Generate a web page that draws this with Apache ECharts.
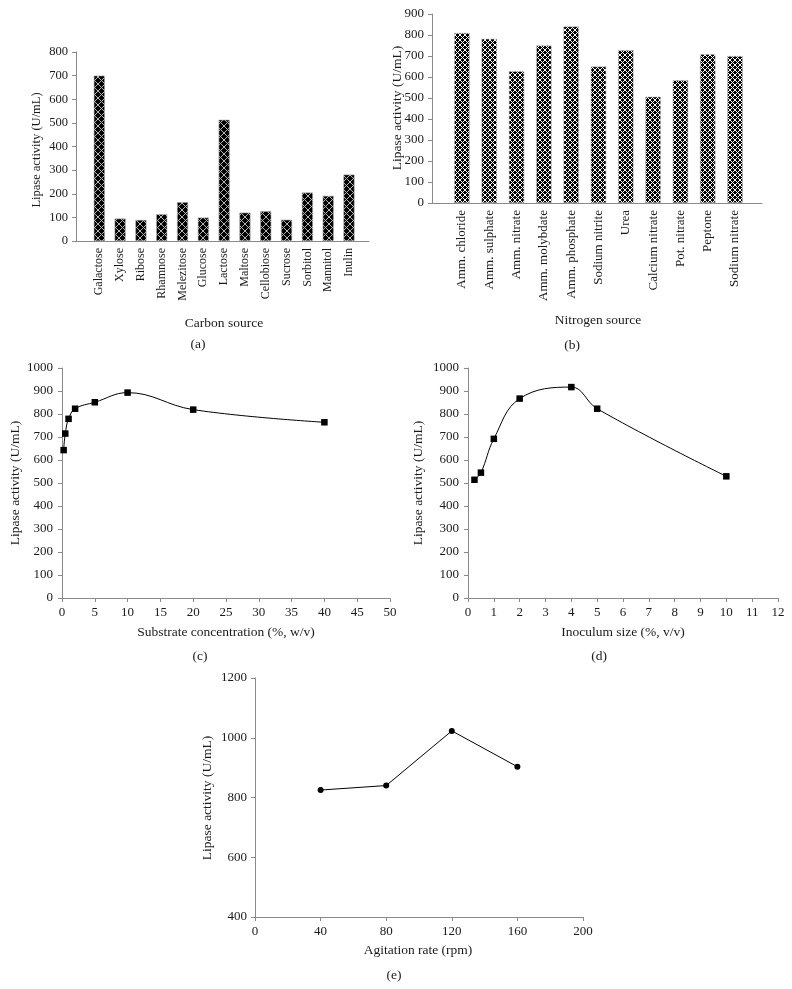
<!DOCTYPE html>
<html><head><meta charset="utf-8">
<script src="https://cdn.jsdelivr.net/npm/echarts@6/dist/echarts.min.js"></script>
<style>html,body{margin:0;padding:0;background:#fff}#c{width:792px;height:989px}</style>
</head><body><div id="c"></div>
<script>
// ---- data ----
const carbonSources = ['Galactose','Xylose','Ribose','Rhamnose','Melezitose','Glucose','Lactose','Maltose','Cellobiose','Sucrose','Sorbitol','Mannitol','Inulin'];
const carbonActivity = [700, 95, 89, 113, 164, 99, 513, 120, 126, 90, 205, 191, 281];
const nitrogenSources = ['Amm. chloride','Amm. sulphate','Amm. nitrate','Amm. molybdate','Amm. phosphate','Sodium nitrite','Urea','Calcium nitrate','Pot. nitrate','Peptone','Sodium nitrate'];
const nitrogenActivity = [810, 782, 628, 750, 841, 650, 728, 506, 585, 709, 700];
const substrateConc = [0.25, 0.5, 1, 2, 5, 10, 20, 40];
const substrateActivity = [643, 715, 779, 823, 851, 893, 819, 764];
const inoculumSize = [0.25, 0.5, 1, 2, 4, 5, 10];
const inoculumActivity = [514, 545, 692, 867, 917, 823, 529];
const agitationRate = [40, 80, 120, 160];
const agitationActivity = [825, 840, 1023, 903];

// ---- styles ----
const FONT = 'Liberation Serif';
const TXT = '#1a1a1a';
const AX = '#8a8a8a';

function makePattern(s, lineColor) {
  const cv = document.createElement('canvas');
  cv.width = s; cv.height = s;
  const ctx = cv.getContext('2d');
  ctx.fillStyle = '#000';
  ctx.fillRect(0, 0, s, s);
  ctx.strokeStyle = lineColor;
  ctx.lineWidth = 1;
  ctx.beginPath();
  for (let k = -1; k <= 1; k++) {
    ctx.moveTo(k * s, 0); ctx.lineTo(k * s + s, s);
    ctx.moveTo(k * s, s); ctx.lineTo(k * s + s, 0);
  }
  ctx.stroke();
  return cv;
}
const patA = makePattern(7, '#b5b5b5');
const patB = makePattern(5, '#ffffff');

function gridBox(l, r, t, b) { return { left: l, width: r - l, top: t, height: b - t, containLabel: false }; }

const grids = [
  gridBox(76, 369, 52, 241),     // 0 a axes
  gridBox(88.9, 359.4, 52, 241), // 1 a bars
  gridBox(432, 762, 14, 203),    // 2 b axes
  gridBox(448.3, 748.7, 14, 203),// 3 b bars
  gridBox(62, 390, 368, 598),    // 4 c
  gridBox(468, 778, 368, 598),   // 5 d
  gridBox(255, 583, 678, 917)    // 6 e
];

function valAxis(gi, min, max, interval, fs, margin) {
  return {
    type: 'value', gridIndex: gi, min: min, max: max, interval: interval,
    axisLine: { show: true, onZero: false, lineStyle: { color: AX, width: 1 } },
    axisTick: { show: true, length: 4, lineStyle: { color: AX } },
    axisLabel: { show: true, color: TXT, fontFamily: FONT, fontSize: fs, margin: margin,
      formatter: function (v) { return String(v); } },
    splitLine: { show: false }
  };
}
function plainX(gi) {
  return {
    type: 'value', gridIndex: gi, min: 0, max: 1,
    axisLine: { show: true, onZero: false, lineStyle: { color: AX, width: 1 } },
    axisTick: { show: false }, axisLabel: { show: false }, splitLine: { show: false }
  };
}
function catX(gi, cats, fs) {
  return {
    type: 'category', gridIndex: gi, data: cats, boundaryGap: true,
    axisLine: { show: false }, axisTick: { show: false },
    axisLabel: { interval: 0, rotate: 90, color: TXT, fontFamily: FONT, fontSize: fs, margin: 7 },
    splitLine: { show: false }
  };
}
function hiddenY(gi, min, max) {
  return { type: 'value', gridIndex: gi, min: min, max: max, show: false, splitLine: { show: false } };
}

const xAxes = [
  plainX(0),
  catX(1, carbonSources, 12),
  plainX(2),
  catX(3, nitrogenSources, 13),
  valAxis(4, 0, 50, 5, 13, 8),
  valAxis(5, 0, 12, 1, 13, 8),
  valAxis(6, 0, 200, 40, 13, 8)
];
const yAxes = [
  valAxis(0, 0, 800, 100, 12.5, 8),
  hiddenY(1, 0, 800),
  valAxis(2, 0, 900, 100, 13, 8),
  hiddenY(3, 0, 900),
  valAxis(4, 0, 1000, 100, 13, 9),
  valAxis(5, 0, 1000, 100, 13, 9),
  valAxis(6, 400, 1200, 200, 13, 8)
];

function zip(xs, ys) { return xs.map((x, i) => [x, ys[i]]); }

const series = [
  { type: 'bar', xAxisIndex: 1, yAxisIndex: 1, data: carbonActivity, barWidth: 11,
    itemStyle: { color: { image: patA, repeat: 'repeat' }, borderColor: '#9a9a9a', borderWidth: 0.6 }, silent: true },
  { type: 'bar', xAxisIndex: 3, yAxisIndex: 3, data: nitrogenActivity, barWidth: 15.5,
    itemStyle: { color: { image: patB, repeat: 'repeat' }, borderColor: '#bdbdbd', borderWidth: 0.6 }, silent: true },
  { type: 'line', xAxisIndex: 4, yAxisIndex: 4, data: zip(substrateConc, substrateActivity), smooth: 0.4,
    symbol: 'rect', symbolSize: 6.5, lineStyle: { color: '#000', width: 1 }, itemStyle: { color: '#000' } },
  { type: 'line', xAxisIndex: 5, yAxisIndex: 5, data: zip(inoculumSize, inoculumActivity), smooth: 0.4,
    symbol: 'rect', symbolSize: 6.5, lineStyle: { color: '#000', width: 1 }, itemStyle: { color: '#000' } },
  { type: 'line', xAxisIndex: 6, yAxisIndex: 6, data: zip(agitationRate, agitationActivity), smooth: false,
    symbol: 'circle', symbolSize: 6, lineStyle: { color: '#000', width: 1 }, itemStyle: { color: '#000' } }
];

function label(text, x, y, rot, fs) {
  return {
    type: 'text', x: x, y: y, rotation: rot || 0, silent: true,
    style: { text: text, x: 0, y: 0, fill: TXT, font: (fs || 13.5) + 'px "' + FONT + '"',
      textAlign: 'center', textVerticalAlign: 'middle' }
  };
}
const Y_TITLE = 'Lipase activity (U/mL)';
const graphics = [
  label(Y_TITLE, 37, 150, Math.PI / 2, 12.5),
  label('Carbon source', 224, 323),
  label('(a)', 198, 344),
  label(Y_TITLE, 397, 108, Math.PI / 2, 13.5),
  label('Nitrogen source', 598, 320),
  label('(b)', 572, 345),
  label(Y_TITLE, 15, 483, Math.PI / 2, 13.5),
  label('Substrate concentration (%, w/v)', 226, 632),
  label('(c)', 200, 656),
  label(Y_TITLE, 418, 483, Math.PI / 2, 13.5),
  label('Inoculum size (%, v/v)', 623, 632),
  label('(d)', 599, 656),
  label(Y_TITLE, 207, 798, Math.PI / 2, 13.5),
  label('Agitation rate (rpm)', 418, 950),
  label('(e)', 394, 975)
];

const chart = echarts.init(document.getElementById('c'), null, { renderer: 'canvas' });
chart.setOption({
  animation: false,
  backgroundColor: '#fff',
  grid: grids,
  xAxis: xAxes,
  yAxis: yAxes,
  series: series,
  graphic: graphics
});
</script>
</body></html>
